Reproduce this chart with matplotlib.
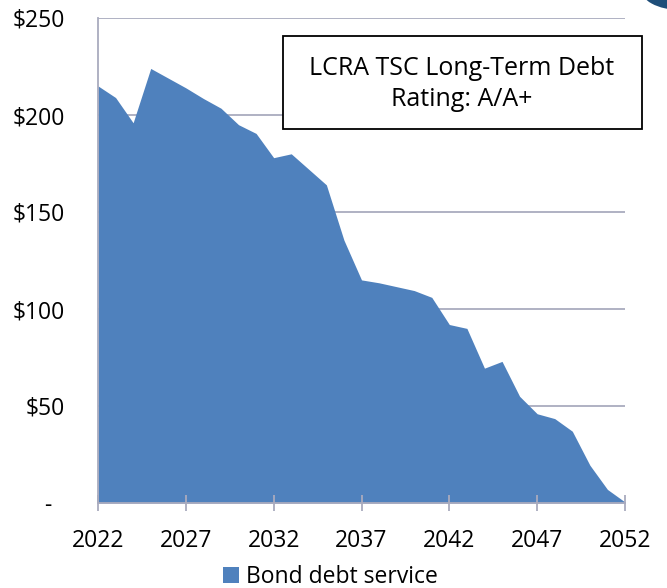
import matplotlib
matplotlib.use("Agg")
import matplotlib.pyplot as plt
from matplotlib.patches import Rectangle, Ellipse

plt.rcParams['font.family'] = ['Open Sans', 'DejaVu Sans']

# bond debt service by year ($ millions)
years = list(range(2022, 2053))
debt_service = [215, 209, 196, 224, 219, 214, 208.5, 203.5, 195, 190.5,
                178, 180, 172, 164, 135.5, 115, 113.5, 111.5, 109.5, 106,
                92, 90, 69.5, 73, 55, 46, 43.5, 37, 19.5, 7, 0.5]

xticks = [2022, 2027, 2032, 2037, 2042, 2047, 2052]
yticks = [0, 50, 100, 150, 200, 250]
ylabels = ["-  ", "$50", "$100", "$150", "$200", "$250"]

fill_col = "#4F81BD"
grid_col = "#A9ABBE"

fig = plt.figure(figsize=(6.67, 5.88), dpi=100)
ax = fig.add_axes([98/667, 1 - 503/588, (625-98)/667, (503-18)/588])

ax.fill_between(years, debt_service, 0, color=fill_col, linewidth=0, zorder=2,
                label="Bond debt service")

# gridlines sit behind the area
for v in yticks[1:]:
    ax.axhline(v, color=grid_col, linewidth=1.3, zorder=0.5)

ax.set_xlim(2022, 2052)
ax.set_ylim(0, 250)
ax.set_xticks(xticks)
ax.set_yticks(yticks)
ax.set_yticklabels(ylabels)

for s in ["top", "right"]:
    ax.spines[s].set_visible(False)
for s in ["left", "bottom"]:
    ax.spines[s].set_color(grid_col)
    ax.spines[s].set_linewidth(1.3)
    ax.spines[s].set_zorder(3)

ax.tick_params(axis="x", direction="inout", length=12, width=1.3, color=grid_col,
               labelsize=16.5, pad=13)
ax.tick_params(axis="y", length=0, labelsize=16.5, pad=24)
ax.set_axisbelow(False)

# rating box
fig.patches.append(Rectangle((283/667, 1 - 129/588), (642-283)/667, (129-36)/588,
                             transform=fig.transFigure, facecolor="white",
                             edgecolor="black", linewidth=1.3, zorder=5))
fig.text(462/667, 1 - 84/588, "LCRA TSC Long-Term Debt\nRating: A/A+",
         ha="center", va="center", fontsize=18, linespacing=1.35, zorder=6)

# bit of a logo peeking in at the top right corner
fig.patches.append(Ellipse((680/667, 1 + 12/588), 80/667, 44/588,
                           transform=fig.transFigure, facecolor="#1F4E79",
                           edgecolor="none", zorder=0))

fig.legend(loc="center", bbox_to_anchor=(330/667, 1 - 577/588), frameon=False,
           fontsize=16.5, handlelength=0.7, handleheight=0.7, handletextpad=0.3,
           borderaxespad=0)

fig.savefig("out.png", dpi=100)
